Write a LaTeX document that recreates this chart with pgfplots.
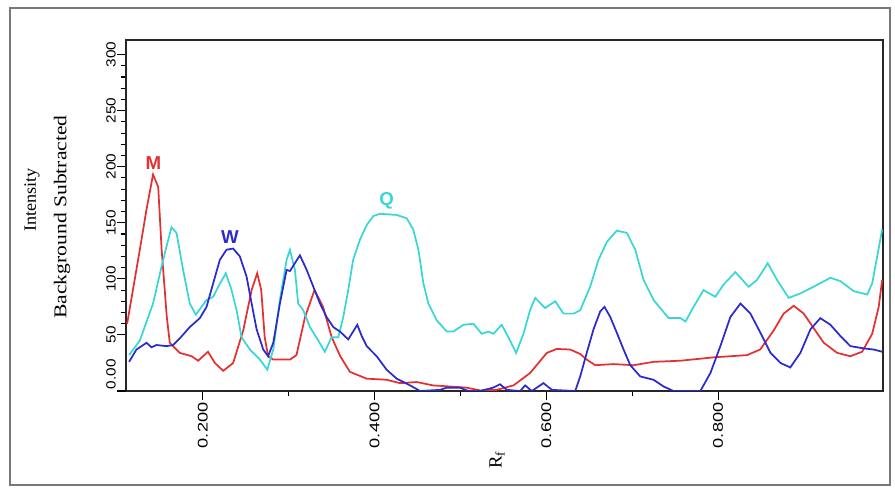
\documentclass[border=0pt]{standalone}
\usepackage{pgfplots}
\pgfplotsset{compat=1.18}
\usepackage{fontspec}
\setmainfont{Liberation Serif}
\newfontfamily\arialf{Liberation Sans}

\definecolor{mred}{RGB}{228,48,48}
\definecolor{qcyan}{RGB}{58,214,214}
\definecolor{wblue}{RGB}{42,42,205}
\definecolor{framegray}{RGB}{120,120,120}

\begin{document}
\begin{tikzpicture}
% 1 px of the reference = 0.75pt, origin at the lower left corner of the axis box
\useasboundingbox (-94.5pt,-72.75pt) rectangle (576.75pt,293.25pt);
\draw[framegray, line width=1.5pt] (-87pt,-70.5pt) rectangle (573pt,287.25pt);

\begin{axis}[
    scale only axis,
    width=567.75pt,
    height=263.25pt,
    xmin=0.1105, xmax=0.992,
    ymin=0, ymax=313,
    axis line style={black!85, line width=1.1pt},
    tick pos=left,
    tick align=outside,
    xtick={0.2,0.4,0.6,0.8},
    xticklabels={0.200,0.400,0.600,0.800},
    minor x tick num=1,
    ytick={50,100,...,300},
    yticklabels={50,100,150,200,250,300},
    extra y ticks={0},
    extra y tick labels={0.00},
    extra y tick style={yticklabel style={anchor=south west}},
    minor y tick num=4,
    major tick length=6.5pt,
    minor tick length=4pt,
    every tick/.style={black, line width=0.8pt},
    xticklabel style={rotate=90, xscale=1.3, anchor=east, font=\arialf\fontsize{10.5}{12}\selectfont, inner sep=1.5pt},
    yticklabel style={rotate=90, xscale=1.15, anchor=south, font=\arialf\fontsize{10}{11}\selectfont, inner sep=1pt},
]

\addplot[mred, line width=1.3pt] coordinates {
(0.1118,60) (0.1266,126) (0.1344,162) (0.142,193) (0.148,182) (0.152,126)
(0.158,66) (0.1615,43) (0.173,34) (0.187,31) (0.1945,27) (0.206,35)
(0.214,25) (0.2237,18) (0.2353,25) (0.247,54) (0.2568,90) (0.2633,105)
(0.268,90) (0.272,48) (0.276,31) (0.282,28) (0.3014,28) (0.309,32)
(0.319,66) (0.330,90) (0.340,75) (0.350,48) (0.360,31) (0.3713,17)
(0.3908,11) (0.414,10) (0.4296,7) (0.449,8) (0.468,5) (0.488,4)
(0.507,3) (0.523,0.5) (0.542,1) (0.5617,5) (0.581,16) (0.6006,34)
(0.612,37.5) (0.6277,37) (0.6394,33) (0.647,28) (0.657,23) (0.678,24)
(0.7015,23) (0.7248,26) (0.756,27) (0.7947,30) (0.8337,32) (0.849,37)
(0.8647,54) (0.8763,69) (0.888,76) (0.8997,69) (0.9113,56) (0.923,43)
(0.9386,34) (0.954,31) (0.9677,35) (0.9794,51) (0.987,75) (0.991,99)
};

\addplot[qcyan, line width=1.3pt] coordinates {
(0.1141,32) (0.1266,45) (0.142,78) (0.1519,111) (0.1577,129) (0.1635,146)
(0.1693,141) (0.177,108) (0.1848,78) (0.1918,68) (0.1985,75) (0.204,81)
(0.212,84) (0.22,96) (0.2268,105) (0.2334,90) (0.2393,72) (0.245,48)
(0.2548,37) (0.2664,28) (0.275,19) (0.282,37) (0.2897,81) (0.2975,117)
(0.3014,126) (0.3072,108) (0.311,78) (0.3169,72) (0.3247,57) (0.3344,45)
(0.342,35) (0.350,48) (0.3577,48) (0.3635,66) (0.3693,90) (0.375,117)
(0.383,135) (0.3908,148) (0.3985,156) (0.4063,158) (0.4257,157) (0.4374,154)
(0.445,144) (0.451,126) (0.4568,96) (0.4626,78) (0.4724,63) (0.484,53)
(0.4917,53) (0.5033,59) (0.515,60) (0.5248,51) (0.5325,53) (0.5383,51)
(0.548,59) (0.5558,48) (0.5648,34) (0.5733,51) (0.581,72) (0.587,83)
(0.5986,74) (0.6103,80) (0.62,69) (0.6316,69) (0.6394,72) (0.651,93)
(0.6607,117) (0.6705,133) (0.682,143) (0.6937,141) (0.7035,126) (0.7132,99)
(0.725,81) (0.7423,65) (0.756,65) (0.762,62) (0.7714,75) (0.783,90)
(0.7967,84) (0.8064,95) (0.82,106) (0.8355,93) (0.8453,99) (0.8577,114)
(0.8686,99) (0.8822,83) (0.8958,87) (0.9113,93) (0.9308,101) (0.9424,98)
(0.958,89) (0.9735,86) (0.9794,96) (0.9852,120) (0.991,144)
};

\addplot[wblue, line width=1.3pt] coordinates {
(0.1141,26) (0.1227,37) (0.1344,43) (0.1402,39) (0.146,41) (0.1577,40)
(0.1654,41) (0.1732,47) (0.1848,57) (0.1965,65) (0.2043,75) (0.212,96)
(0.2198,117) (0.2276,126) (0.2353,127) (0.2431,120) (0.2509,102) (0.2568,78)
(0.2626,55) (0.2703,37) (0.276,31) (0.282,43) (0.2897,78) (0.2975,108)
(0.3014,107) (0.3072,114) (0.313,121) (0.3209,108) (0.3286,93) (0.3364,78)
(0.344,66) (0.3519,57) (0.3597,53) (0.3693,46) (0.375,53) (0.3798,59)
(0.385,49) (0.3908,40) (0.4024,31) (0.414,19) (0.4257,11) (0.4413,5)
(0.453,0) (0.476,1) (0.484,3) (0.4995,3) (0.509,0) (0.523,0)
(0.538,3) (0.546,6) (0.554,1) (0.5695,0) (0.5753,5) (0.583,0)
(0.5966,7) (0.6064,1) (0.6336,0) (0.6394,13) (0.647,34) (0.6549,55)
(0.6627,71) (0.6677,75) (0.6744,66) (0.682,52) (0.6899,37) (0.6977,23)
(0.7093,13) (0.7248,10) (0.7365,4) (0.748,0) (0.7793,0) (0.791,16)
(0.8026,40) (0.8143,66) (0.826,78) (0.8376,69) (0.8492,52) (0.861,34)
(0.8726,25) (0.884,21) (0.8958,34) (0.9075,55) (0.919,65) (0.9308,59)
(0.9424,49) (0.954,40) (0.9696,38) (0.981,37) (0.991,35)
};

\node[text=mred, font=\arialf\bfseries\fontsize{14}{14}\selectfont] at (axis cs:0.1423,203) {M};
\node[text=wblue, font=\arialf\bfseries\fontsize{14}{14}\selectfont] at (axis cs:0.2315,137) {W};
\node[text=qcyan, font=\arialf\bfseries\fontsize{14}{14}\selectfont] at (axis cs:0.4139,170) {Q};
\end{axis}

\node[rotate=90, xscale=1.05, font=\fontsize{13}{14}\selectfont] at (-70.5pt,143.25pt) {Intensity};
\node[rotate=90, xscale=1.2, font=\fontsize{13.5}{14}\selectfont] at (-48pt,130.5pt) {Background Subtracted};
\node[rotate=90, font=\fontsize{14}{15}\selectfont] at (278.25pt,-51.75pt) {R$_{\mathrm{f}}$};
\end{tikzpicture}
\end{document}
